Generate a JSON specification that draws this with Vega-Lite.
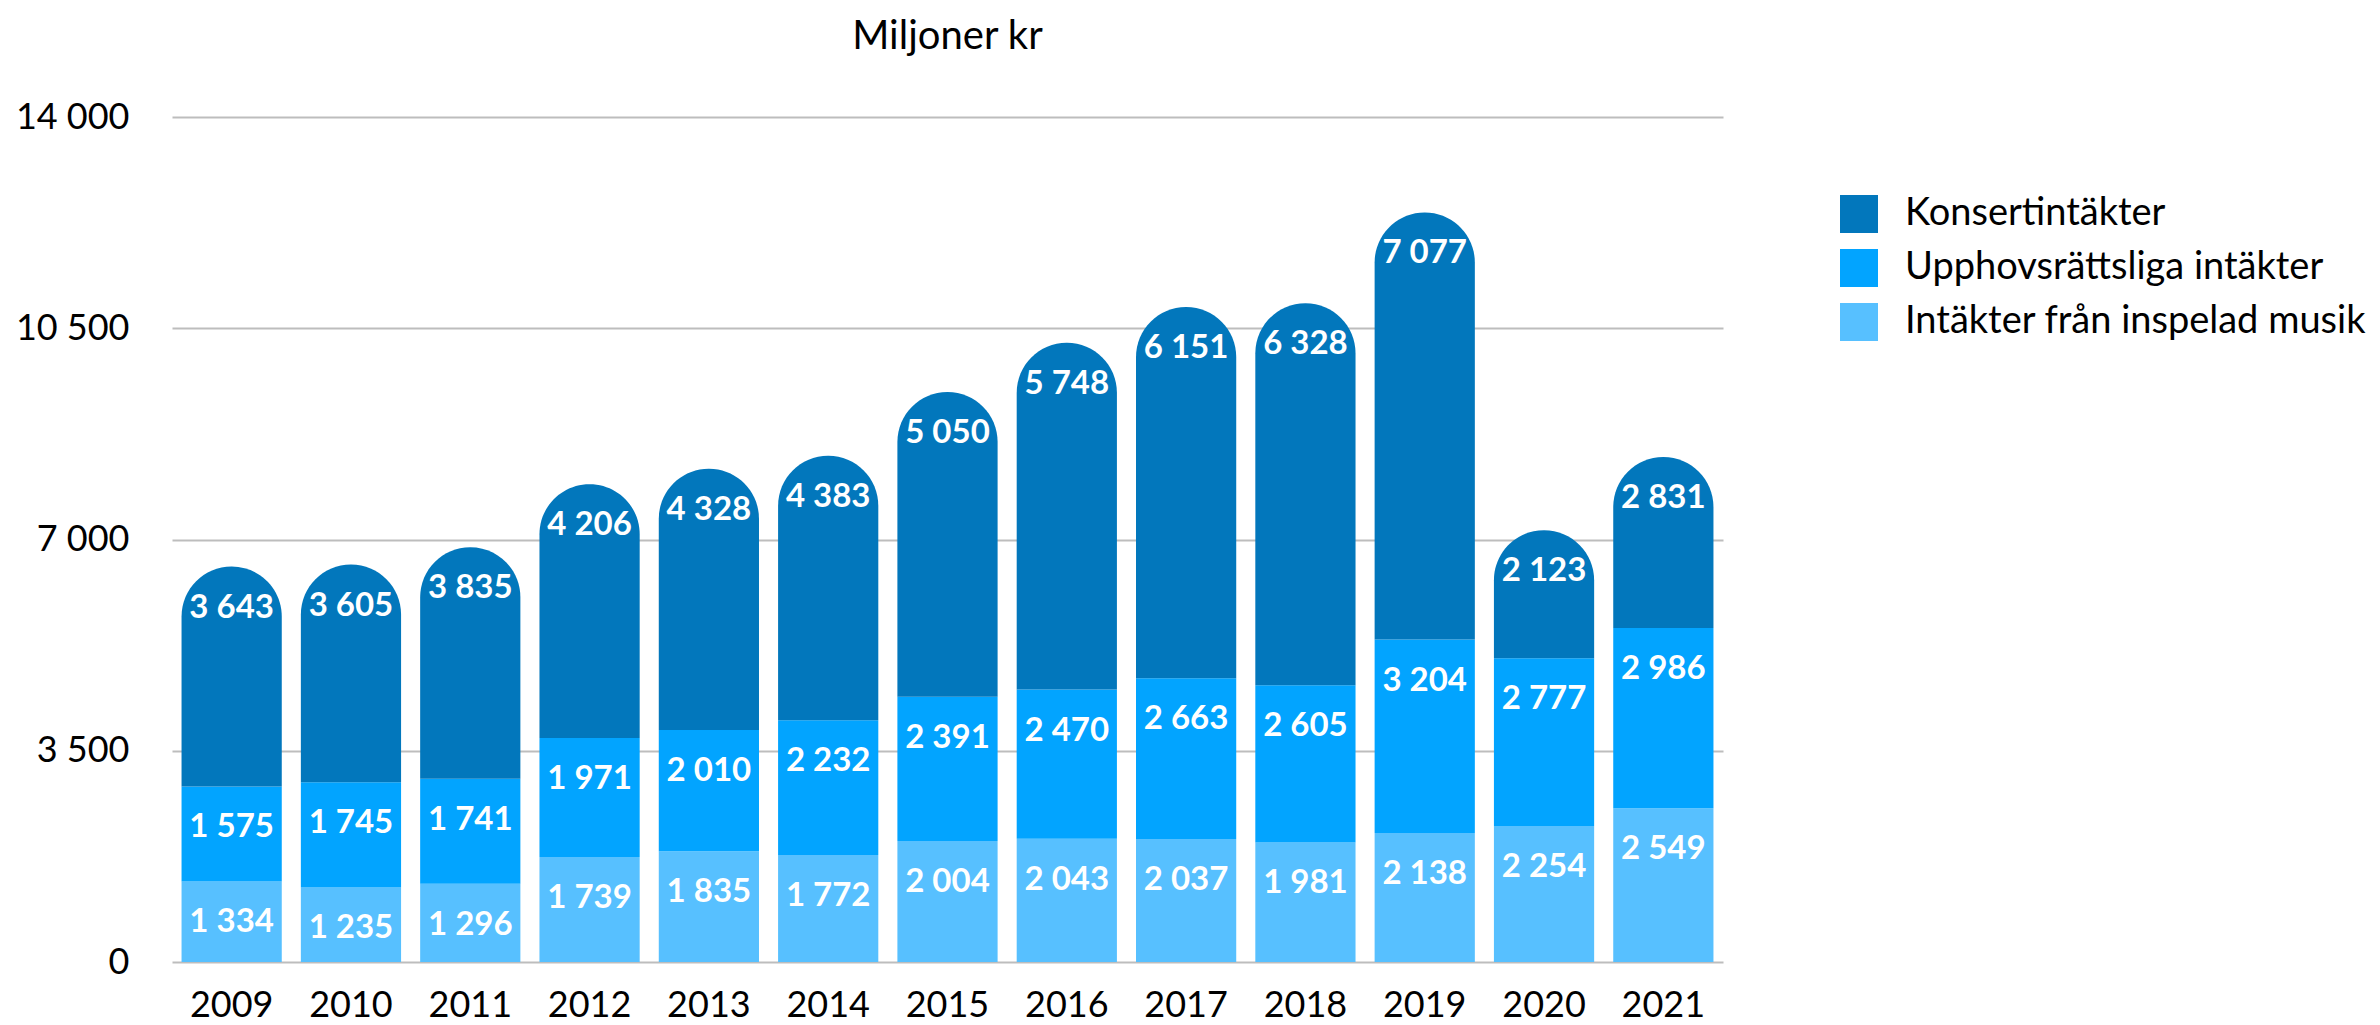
{
  "$schema": "https://vega.github.io/schema/vega-lite/v6.json",
  "width": 1551,
  "height": 845,
  "autosize": {"type": "none"},
  "padding": {"left": 172, "top": 117, "right": 657, "bottom": 63},
  "background": "white",
  "title": {"text": "Miljoner kr", "font": "Lato", "fontSize": 40, "fontWeight": "normal", "color": "#000000", "anchor": "middle", "offset": 42},
  "config": {
    "view": {"stroke": null},
    "locale": {"number": {"decimal": ",", "thousands": " ", "grouping": [3], "currency": ["", " kr"]}}
  },
  "data": {"values": [
    {"year": "2009", "cat": "Intäkter från inspelad musik", "ord": 1, "value": 1334},
    {"year": "2009", "cat": "Upphovsrättsliga intäkter", "ord": 2, "value": 1575},
    {"year": "2009", "cat": "Konsertintäkter", "ord": 3, "value": 3643},
    {"year": "2010", "cat": "Intäkter från inspelad musik", "ord": 1, "value": 1235},
    {"year": "2010", "cat": "Upphovsrättsliga intäkter", "ord": 2, "value": 1745},
    {"year": "2010", "cat": "Konsertintäkter", "ord": 3, "value": 3605},
    {"year": "2011", "cat": "Intäkter från inspelad musik", "ord": 1, "value": 1296},
    {"year": "2011", "cat": "Upphovsrättsliga intäkter", "ord": 2, "value": 1741},
    {"year": "2011", "cat": "Konsertintäkter", "ord": 3, "value": 3835},
    {"year": "2012", "cat": "Intäkter från inspelad musik", "ord": 1, "value": 1739},
    {"year": "2012", "cat": "Upphovsrättsliga intäkter", "ord": 2, "value": 1971},
    {"year": "2012", "cat": "Konsertintäkter", "ord": 3, "value": 4206},
    {"year": "2013", "cat": "Intäkter från inspelad musik", "ord": 1, "value": 1835},
    {"year": "2013", "cat": "Upphovsrättsliga intäkter", "ord": 2, "value": 2010},
    {"year": "2013", "cat": "Konsertintäkter", "ord": 3, "value": 4328},
    {"year": "2014", "cat": "Intäkter från inspelad musik", "ord": 1, "value": 1772},
    {"year": "2014", "cat": "Upphovsrättsliga intäkter", "ord": 2, "value": 2232},
    {"year": "2014", "cat": "Konsertintäkter", "ord": 3, "value": 4383},
    {"year": "2015", "cat": "Intäkter från inspelad musik", "ord": 1, "value": 2004},
    {"year": "2015", "cat": "Upphovsrättsliga intäkter", "ord": 2, "value": 2391},
    {"year": "2015", "cat": "Konsertintäkter", "ord": 3, "value": 5050},
    {"year": "2016", "cat": "Intäkter från inspelad musik", "ord": 1, "value": 2043},
    {"year": "2016", "cat": "Upphovsrättsliga intäkter", "ord": 2, "value": 2470},
    {"year": "2016", "cat": "Konsertintäkter", "ord": 3, "value": 5748},
    {"year": "2017", "cat": "Intäkter från inspelad musik", "ord": 1, "value": 2037},
    {"year": "2017", "cat": "Upphovsrättsliga intäkter", "ord": 2, "value": 2663},
    {"year": "2017", "cat": "Konsertintäkter", "ord": 3, "value": 6151},
    {"year": "2018", "cat": "Intäkter från inspelad musik", "ord": 1, "value": 1981},
    {"year": "2018", "cat": "Upphovsrättsliga intäkter", "ord": 2, "value": 2605},
    {"year": "2018", "cat": "Konsertintäkter", "ord": 3, "value": 6328},
    {"year": "2019", "cat": "Intäkter från inspelad musik", "ord": 1, "value": 2138},
    {"year": "2019", "cat": "Upphovsrättsliga intäkter", "ord": 2, "value": 3204},
    {"year": "2019", "cat": "Konsertintäkter", "ord": 3, "value": 7077},
    {"year": "2020", "cat": "Intäkter från inspelad musik", "ord": 1, "value": 2254},
    {"year": "2020", "cat": "Upphovsrättsliga intäkter", "ord": 2, "value": 2777},
    {"year": "2020", "cat": "Konsertintäkter", "ord": 3, "value": 2123},
    {"year": "2021", "cat": "Intäkter från inspelad musik", "ord": 1, "value": 2549},
    {"year": "2021", "cat": "Upphovsrättsliga intäkter", "ord": 2, "value": 2986},
    {"year": "2021", "cat": "Konsertintäkter", "ord": 3, "value": 2831}
  ]},
  "transform": [
    {"stack": "value", "groupby": ["year"], "sort": [{"field": "ord", "order": "ascending"}], "as": ["v0", "v1"]}
  ],
  "encoding": {
    "x": {
      "field": "year", "type": "ordinal",
      "scale": {"paddingInner": 0.16, "paddingOuter": 0.08},
      "axis": {"title": null, "labelAngle": 0, "domain": false, "ticks": false, "labelFont": "Lato", "labelFontSize": 36, "labelColor": "#000000", "labelPadding": 26, "grid": false}
    }
  },
  "layer": [
    {
      "transform": [{"filter": "datum.ord < 3"}],
      "mark": {"type": "bar"},
      "encoding": {
        "y": {
          "field": "v1", "type": "quantitative",
          "scale": {"domain": [0, 14000], "nice": false},
          "axis": {"title": null, "values": [0, 3500, 7000, 10500, 14000], "format": ",.0f", "domain": false, "ticks": false, "labelFont": "Lato", "labelFontSize": 36, "labelColor": "#000000", "labelPadding": 43, "gridColor": "#BDBDBD", "gridWidth": 2}
        },
        "y2": {"field": "v0"},
        "color": {
          "field": "cat", "type": "nominal",
          "scale": {"domain": ["Konsertintäkter", "Upphovsrättsliga intäkter", "Intäkter från inspelad musik"], "range": ["#0277BC", "#02A4FF", "#57C0FF"]},
          "legend": {"title": null, "orient": "right", "offset": 39, "padding": 78, "symbolType": "square", "symbolSize": 1444, "symbolStrokeWidth": 0, "symbolOpacity": 1, "labelFont": "Lato", "labelFontSize": 38, "labelColor": "#000000", "labelOffset": 27, "rowPadding": 16, "labelLimit": 700}
        }
      }
    },
    {
      "transform": [{"filter": "datum.ord == 3"}],
      "mark": {"type": "bar", "cornerRadiusTopLeft": 50, "cornerRadiusTopRight": 50},
      "encoding": {
        "y": {"field": "v1", "type": "quantitative"},
        "y2": {"field": "v0"},
        "color": {"field": "cat", "type": "nominal"}
      }
    },
    {
      "mark": {"type": "text", "font": "Lato", "fontSize": 33, "fontWeight": "bold", "color": "#FFFFFF", "baseline": "middle", "align": "center", "dy": 41},
      "encoding": {
        "y": {"field": "v1", "type": "quantitative"},
        "text": {"field": "value", "type": "quantitative", "format": ","}
      }
    }
  ]
}
